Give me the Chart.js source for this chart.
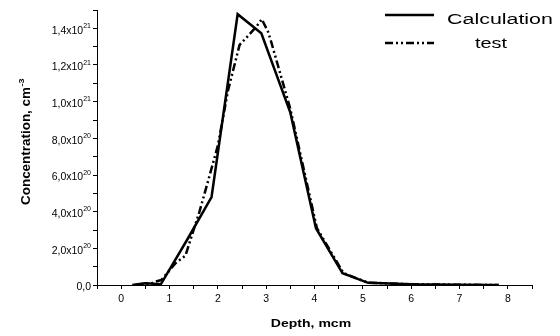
<!DOCTYPE html>
<html><head><meta charset="utf-8">
<script src="https://cdn.jsdelivr.net/npm/chart.js@4/dist/chart.umd.min.js"></script>
<style>html,body{margin:0;padding:0;background:#fff}</style>
</head><body>
<canvas id="c" width="560" height="336"></canvas>
<script>
// ---- data (depth in mcm, concentration in cm^-3) ----
const calcDepth = [0.23, 0.50, 0.82, 1.35, 1.87, 2.41, 2.90, 3.50, 4.03, 4.58, 5.11, 6.00, 7.00, 7.81];
const calcConc  = [0, 1.0e19, 0.4e19, 2.4e20, 4.8e20, 1.477e21, 1.373e21, 9.4e20, 3.1e20, 6.4e19, 1.2e19, 4e18, 1.5e18, 0];
const testDepth = [0.30, 0.50, 0.60, 0.70, 0.83, 1.13, 1.33, 1.45, 1.62, 1.78, 2.00, 2.21, 2.45, 2.63, 2.80, 2.91, 3.04, 3.10, 3.50, 4.05, 4.60, 5.10, 6.00, 7.00, 7.81];
const testConc  = [0, 0.9e19, 0.5e19, 1.8e19, 2.7e19, 1.2e20, 1.6e20, 2.6e20, 4.0e20, 5.5e20, 7.6e20, 1.06e21, 1.31e21, 1.36e21, 1.41e21, 1.45e21, 1.38e21, 1.33e21, 9.6e20, 3.1e20, 6.5e19, 1.3e19, 4e18, 1.5e18, 0];
const seriesNames = ['Calculation', 'test'];
const xTickLabels = ['0','1','2','3','4','5','6','7','8'];
const yTickValues = [0, 2e20, 4e20, 6e20, 8e20, 1e21, 1.2e21, 1.4e21];
const yTickMantissas = ['0,0','2,0x10','4,0x10','6,0x10','8,0x10','1,0x10','1,2x10','1,4x10'];
const yTickExponents = ['','20','20','20','20','21','21','21'];
const xTitle = 'Depth, mcm';
const yTitle = 'Concentration, cm';
const yTitleExp = '-3';

const FONT = "'Liberation Sans', Arial, sans-serif";

function toPoints(xs, ys){ return xs.map((x,i)=>({x:x, y:ys[i]})); }

const drawText = {
  id: 'drawText',
  afterDraw(chart){
    const ctx = chart.ctx;
    const ys = chart.scales.y;
    ctx.save();
    ctx.fillStyle = '#000';
    // y tick labels with superscripts
    yTickValues.forEach((v,i)=>{
      const py = ys.getPixelForValue(v);
      const right = 91;
      ctx.font = '7px ' + FONT;
      const ew = ctx.measureText(yTickExponents[i]).width;
      ctx.textAlign = 'left';
      ctx.textBaseline = 'alphabetic';
      if (yTickExponents[i]) ctx.fillText(yTickExponents[i], right - ew, py - 0.5);
      ctx.font = '10.5px ' + FONT;
      ctx.textAlign = 'right';
      ctx.fillText(yTickMantissas[i], right - ew, py + 5.3);
    });
    // y title
    ctx.save();
    ctx.translate(30, 142);
    ctx.rotate(-Math.PI/2);
    ctx.scale(1.12, 1);
    ctx.font = 'bold 12px ' + FONT;
    const tw = ctx.measureText(yTitle).width;
    ctx.font = 'bold 8px ' + FONT;
    const sw = ctx.measureText(yTitleExp).width;
    const start = -(tw + sw)/2;
    ctx.textAlign = 'left';
    ctx.textBaseline = 'alphabetic';
    ctx.font = 'bold 12px ' + FONT;
    ctx.fillText(yTitle, start, 0);
    ctx.font = 'bold 8px ' + FONT;
    ctx.fillText(yTitleExp, start + tw + 0.5, -6);
    ctx.restore();
    // x title
    ctx.save();
    ctx.translate(311, 327);
    ctx.scale(1.22, 1);
    ctx.font = 'bold 11.5px ' + FONT;
    ctx.textAlign = 'center';
    ctx.textBaseline = 'alphabetic';
    ctx.fillText(xTitle, 0, 0);
    ctx.restore();
    // legend
    const rows = [15, 43];
    chart.data.datasets.forEach((ds, i)=>{
      const y = rows[i];
      ctx.save();
      ctx.strokeStyle = ds.borderColor;
      ctx.lineWidth = ds.borderWidth;
      ctx.setLineDash(ds.borderDash || []);
      ctx.beginPath();
      ctx.moveTo(385, y);
      ctx.lineTo(434, y);
      ctx.stroke();
      ctx.restore();
      ctx.save();
      ctx.font = '15.5px ' + FONT;
      ctx.textBaseline = 'middle';
      ctx.textAlign = 'center';
      const cx = i === 0 ? 500 : 491;
      const cy = i === 0 ? 20 : 43.5;
      ctx.translate(cx, cy);
      ctx.scale(i === 0 ? 1.38 : 1.28, 1);
      ctx.fillText(ds.label, 0, 0);
      ctx.restore();
    });
    ctx.restore();
  }
};

new Chart(document.getElementById('c'), {
  type: 'line',
  data: {
    datasets: [
      { label: seriesNames[0], data: toPoints(calcDepth, calcConc), borderColor: '#000', borderWidth: 2.5, pointRadius: 0, fill: false, tension: 0, borderJoinStyle: 'miter' },
      { label: seriesNames[1], data: toPoints(testDepth, testConc), borderColor: '#000', borderWidth: 2.5, borderDash: [8,3,2,3,2,3], pointRadius: 0, fill: false, tension: 0 }
    ]
  },
  options: {
    responsive: false,
    animation: false,
    events: [],
    layout: { padding: { top: 10, right: 28, left: 0, bottom: 0 } },
    plugins: { legend: { display: false }, tooltip: { enabled: false } },
    scales: {
      x: {
        type: 'linear', min: -0.5, max: 8.5,
        afterFit(s){ s.height = 51; },
        ticks: {
          stepSize: 0.5, autoSkip: false, maxRotation: 0, padding: 4, color: '#000',
          font: { family: FONT, size: 10.5 },
          callback(v){ return Number.isInteger(v) && v >= 0 ? xTickLabels[v] : ''; }
        },
        grid: { display: true, drawOnChartArea: false, drawTicks: true, tickLength: 4, color: '#000', lineWidth: 1 },
        border: { display: true, color: '#000', width: 1 }
      },
      y: {
        type: 'linear', min: 0, max: 1.5e21,
        afterFit(s){ s.width = 97; },
        ticks: { stepSize: 1e20, autoSkip: false, callback(){ return ''; }, padding: 0 },
        grid: { display: true, drawOnChartArea: false, drawTicks: true, tickLength: 4, color: '#000', lineWidth: 1 },
        border: { display: true, color: '#000', width: 1 }
      }
    }
  },
  plugins: [drawText]
});
</script>
</body></html>
